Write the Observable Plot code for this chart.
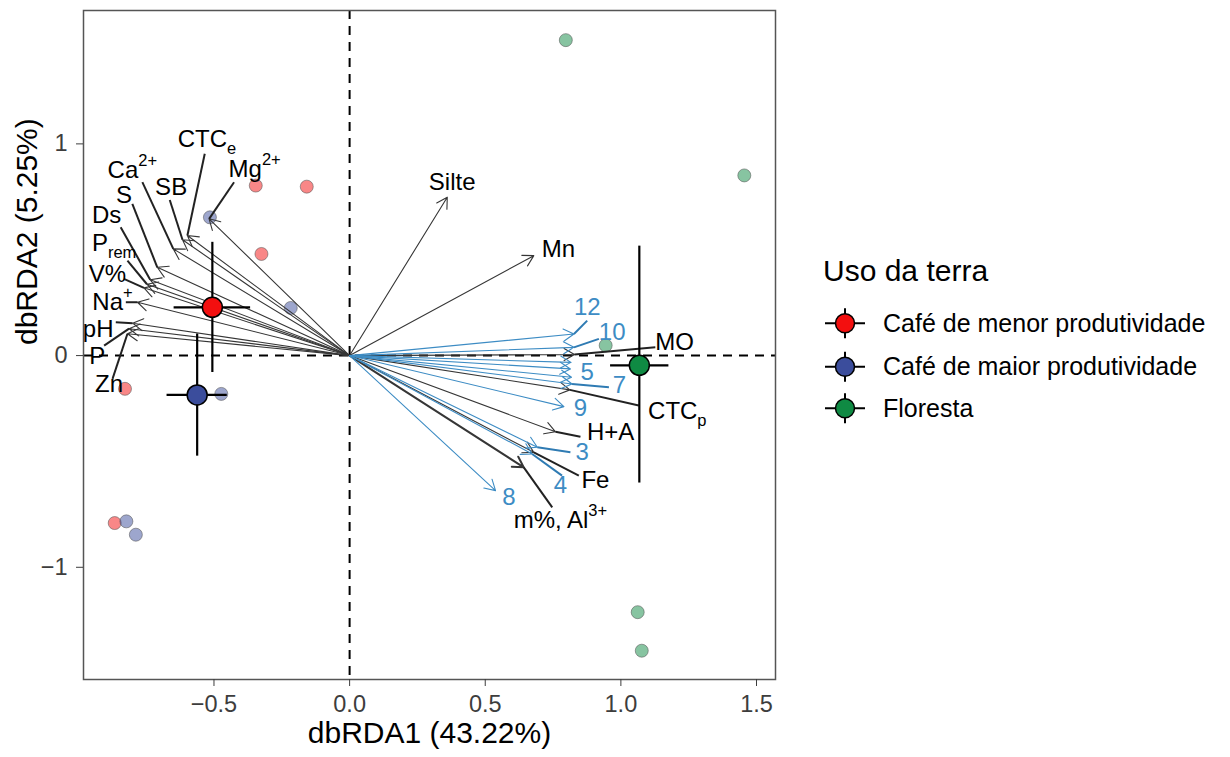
<!DOCTYPE html>
<html>
<head>
<meta charset="utf-8">
<script src="https://cdn.jsdelivr.net/npm/d3@7"></script>
<script src="https://cdn.jsdelivr.net/npm/@observablehq/plot@0.6"></script>
<style>
  html, body { margin: 0; padding: 0; background: white; }
  #wrap { position: relative; width: 1230px; height: 757px; }
</style>
</head>
<body>
<div id="wrap"></div>
<script>
// ---------- data ----------
const groups = ["Café de menor produtividade", "Café de maior produtividade", "Floresta"];
const groupColors = ["#f30f0f", "#3b4d9c", "#0f8a43"];

// individual samples
const sampleGroup = [0, 0, 0, 0, 0, 1, 1, 1, 1, 1, 2, 2, 2, 2, 2];
const sampleX = [-0.346, -0.158, -0.325, -0.828, -0.866, -0.515, -0.217, -0.473, -0.823, -0.788, 0.797, 1.455, 0.944, 1.062, 1.077];
const sampleY = [0.803, 0.798, 0.480, -0.157, -0.791, 0.653, 0.225, -0.181, -0.783, -0.846, 1.490, 0.851, 0.048, -1.212, -1.394];

// group centroids with error bars
const meanX = [-0.506, -0.562, 1.068];
const meanY = [0.228, -0.186, -0.046];
const meanXLo = [-0.647, -0.673, 0.962];
const meanXHi = [-0.365, -0.451, 1.177];
const meanYLo = [-0.080, -0.475, -0.602];
const meanYHi = [0.535, 0.102, 0.517];

// arrows (vector tips); kind 0 = soil variable (dark), 1 = numbered (blue)
const arrowName = ["Mg^2+", "CTC_e", "SB", "Ca^2+", "S", "Ds", "P_rem", "V%", "Na^+", "pH", "P", "Zn",
  "Silte", "Mn", "MO", "CTC_p", "H+A", "Fe", "m%, Al^3+",
  "12", "10", "", "5", "", "7", "9", "3", "4", "8"];
const arrowKind = [0, 0, 0, 0, 0, 0, 0, 0, 0, 0, 0, 0,
  0, 0, 0, 0, 0, 0, 0,
  1, 1, 1, 1, 1, 1, 1, 1, 1, 1];
const arrowX = [-0.518, -0.598, -0.616, -0.650, -0.709, -0.735, -0.747, -0.758, -0.782, -0.800, -0.813, -0.819,
  0.360, 0.679, 0.829, 0.812, 0.759, 0.679, 0.642,
  0.827, 0.827, 0.816, 0.814, 0.818, 0.820, 0.790, 0.692, 0.673, 0.538];
const arrowY = [0.646, 0.567, 0.547, 0.504, 0.417, 0.358, 0.337, 0.320, 0.252, 0.153, 0.127, 0.103,
  0.748, 0.472, 0.005, -0.162, -0.360, -0.457, -0.528,
  0.102, 0.039, -0.032, -0.063, -0.102, -0.134, -0.241, -0.433, -0.465, -0.638];

// label positions (text centre) and start of the leader segment (null = no leader)
const labelX = [-0.350, -0.526, -0.658, -0.801, -0.832, -0.896, -0.868, -0.893, -0.874, -0.927, -0.930, -0.887,
  0.378, 0.770, 1.198, 1.208, 0.962, 0.906, 0.777,
  0.876, 0.968, null, 0.876, null, 0.995, 0.851, 0.857, 0.777, 0.587];
const labelY = [0.880, 1.022, 0.795, 0.874, 0.758, 0.664, 0.530, 0.384, 0.252, 0.126, -0.005, -0.134,
  0.819, 0.500, 0.064, -0.262, -0.362, -0.590, -0.779,
  0.228, 0.110, null, -0.079, null, -0.142, -0.247, -0.457, -0.614, -0.669];
const leaderX = [-0.426, -0.534, -0.663, -0.764, -0.801, -0.844, -0.819, -0.832, -0.825, -0.862, -0.905, -0.874,
  null, null, 1.127, 1.066, 0.851, 0.845, 0.747,
  0.876, 0.919, null, null, null, 0.956, null, 0.814, 0.783, null];
const leaderY = [0.819, 0.953, 0.735, 0.819, 0.717, 0.606, 0.449, 0.362, 0.252, 0.157, 0.047, -0.110,
  null, null, 0.039, -0.236, -0.383, -0.567, -0.717,
  0.165, 0.079, null, null, null, -0.150, null, -0.457, -0.567, null];

const xTicks = [-0.5, 0, 0.5, 1, 1.5];
const yTicks = [-1, 0, 1];
const xTitle = "dbRDA1 (43.22%)";
const yTitle = "dbRDA2 (5.25%)";
const legendTitle = "Uso da terra";

// ---------- tables ----------
const samples = sampleX.map((x, i) => ({x, y: sampleY[i], g: sampleGroup[i]}));
const means = meanX.map((x, i) => ({x, y: meanY[i], x1: meanXLo[i], x2: meanXHi[i], y1: meanYLo[i], y2: meanYHi[i], g: i}));
const arrows = arrowName.map((n, i) => ({
  name: n, kind: arrowKind[i], x: arrowX[i], y: arrowY[i],
  lx: labelX[i], ly: labelY[i], sx: leaderX[i], sy: leaderY[i]
}));
const labelled = arrows.filter(d => d.name !== "" && d.lx != null);
const leaders = arrows.filter(d => d.sx != null);

const DARK = "#363636";
const BLUE = "#3d8cc4";
const kindColor = k => k === 1 ? BLUE : DARK;
const FONT = "'Liberation Sans', Arial, Helvetica, sans-serif";

const svg = Plot.plot({
  width: 1230,
  height: 757,
  marginLeft: 83,
  marginRight: 455,
  marginTop: 10,
  marginBottom: 78,
  style: {fontFamily: FONT, fontSize: "23px", color: "#3d3d3d", background: "white"},
  x: {domain: [-0.981, 1.570], label: null},
  y: {domain: [-1.530, 1.630], label: null},
  marks: [
    Plot.ruleX([0], {stroke: "black", strokeWidth: 2, strokeDasharray: "9,7"}),
    Plot.ruleY([0], {stroke: "black", strokeWidth: 2, strokeDasharray: "9,7"}),
    Plot.dot(samples, {x: "x", y: "y", r: 6.5, fill: d => groupColors[d.g], fillOpacity: 0.5,
      stroke: "#555", strokeOpacity: 0.55, strokeWidth: 1}),
    Plot.arrow(arrows, {x1: () => 0, y1: () => 0, x2: "x", y2: "y",
      stroke: d => kindColor(d.kind),
      strokeWidth: d => d.name.startsWith("m%") ? 2 : 1.1,
      headLength: 18, headAngle: 60, insetEnd: 0}),
    Plot.link(leaders, {x1: "sx", y1: "sy", x2: "x", y2: "y",
      stroke: d => d.kind === 1 ? "#2f7bb3" : "#222", strokeWidth: 2}),
    Plot.text(labelled, {x: "lx", y: "ly", text: "name", fontSize: 24,
      fill: d => d.kind === 1 ? BLUE : "black", textAnchor: "middle", lineAnchor: "middle"}),
    Plot.ruleY(means, {y: "y", x1: "x1", x2: "x2", stroke: "black", strokeWidth: 2.2}),
    Plot.ruleX(means, {x: "x", y1: "y1", y2: "y2", stroke: "black", strokeWidth: 2.2}),
    Plot.dot(means, {x: "x", y: "y", r: 10, fill: d => groupColors[d.g], stroke: "black", strokeWidth: 1.5}),
    Plot.frame({stroke: "#555", strokeWidth: 1.5}),
    Plot.axisX({ticks: xTicks, tickFormat: d3.format(".1f"), tickSize: 7, tickPadding: 9, fontSize: 23.5, label: null}),
    Plot.axisY({ticks: yTicks, tickFormat: d3.format("d"), tickSize: 7, tickPadding: 9, fontSize: 23.5, label: null}),
    Plot.text([xTitle], {frameAnchor: "bottom", dy: 63, fontSize: 30, fill: "black", text: d => d}),
    Plot.text([yTitle], {frameAnchor: "left", dx: -56, rotate: -90, fontSize: 30, fill: "black", text: d => d})
  ]
});

// sub- and superscripts in variable names
d3.select(svg).selectAll("text").each(function () {
  if (this.querySelector("tspan")) return;
  const t = this.textContent;
  const m = /^(.*?)([_^])(.+)$/.exec(t);
  if (!m) return;
  const sel = d3.select(this);
  sel.text(null);
  sel.append("tspan").text(m[1]);
  sel.append("tspan")
    .attr("font-size", "16.5px")
    .attr("dy", m[2] === "^" ? "-0.75em" : "0.42em")
    .text(m[3]);
});

const wrap = document.getElementById("wrap");
wrap.appendChild(svg);

// ---------- legend ----------
const leg = d3.create("svg")
  .attr("width", 420).attr("height", 200)
  .style("position", "absolute").style("left", "810px").style("top", "240px")
  .style("font-family", FONT);
leg.append("text").attr("x", 13).attr("y", 41).attr("font-size", 30).attr("fill", "black").text(legendTitle);
const keyY = [83.3, 126.7, 168.3];
groups.forEach((g, i) => {
  const row = leg.append("g").attr("transform", `translate(35,${keyY[i]})`);
  row.append("line").attr("x1", -20).attr("x2", 20).attr("stroke", "black").attr("stroke-width", 2);
  row.append("line").attr("y1", -15).attr("y2", 15).attr("stroke", "black").attr("stroke-width", 2);
  row.append("circle").attr("r", 9.5).attr("fill", groupColors[i]).attr("stroke", "black").attr("stroke-width", 1.5);
  leg.append("text").attr("x", 73).attr("y", keyY[i]).attr("dy", "0.35em")
    .attr("font-size", 25).attr("fill", "black").text(g);
});
wrap.appendChild(leg.node());
</script>
</body>
</html>
